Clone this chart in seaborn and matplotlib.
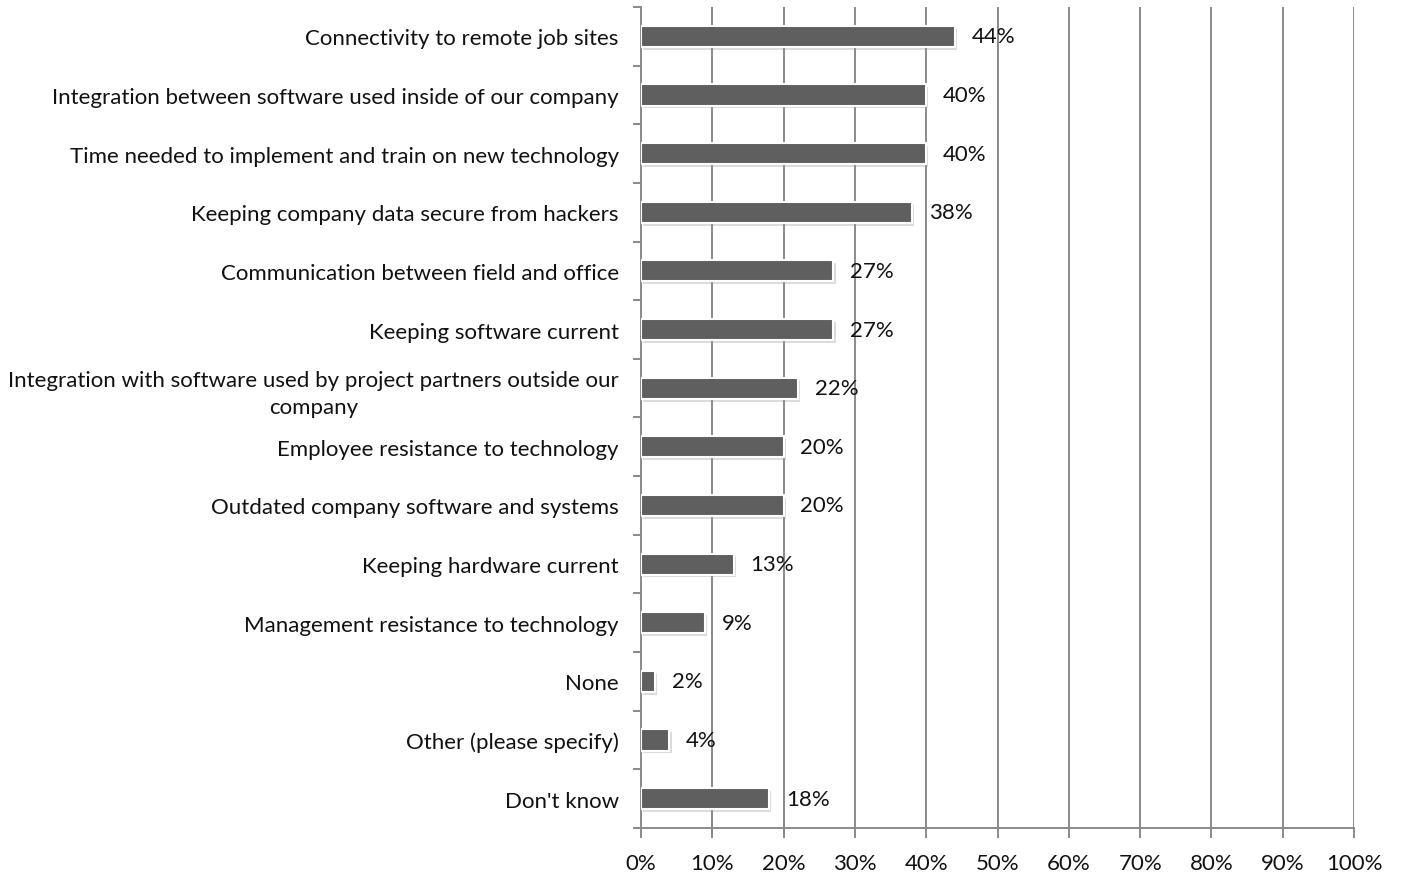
import matplotlib
matplotlib.use("Agg")
import matplotlib.pyplot as plt
import matplotlib.patheffects as pe
from matplotlib.ticker import FixedLocator, PercentFormatter
import seaborn as sns
import pandas as pd
import numpy as np

# Survey responses: biggest technology challenges
categories = [
    "Connectivity to remote job sites",
    "Integration between software used inside of our company",
    "Time needed to implement and train on new technology",
    "Keeping company data secure from hackers",
    "Communication between field and office",
    "Keeping software current",
    "Integration with software used by project partners outside our\ncompany",
    "Employee resistance to technology",
    "Outdated company software and systems",
    "Keeping hardware current",
    "Management resistance to technology",
    "None",
    "Other (please specify)",
    "Don't know",
]
values = [44, 40, 40, 38, 27, 27, 22, 20, 20, 13, 9, 2, 4, 18]
x_ticks = list(range(0, 101, 10))

df = pd.DataFrame({"challenge": categories, "share": values})

sns.set_theme(style="white")
plt.rcParams["font.family"] = ["Lato", "DejaVu Sans"]

FS = 16
fig = plt.figure(figsize=(14.01, 8.78), dpi=100)
ax = fig.add_axes([0.4575, 0.0558, 0.509, 0.9351])

sns.barplot(data=df, x="share", y="challenge", orient="h", order=categories,
            color="#5f5f5f", saturation=1, width=0.36, ax=ax,
            edgecolor="white", linewidth=1.5, zorder=3)

for bar in ax.patches:
    bar.set_path_effects([
        pe.SimplePatchShadow(offset=(1.5, -2), shadow_rgbFace="#9a9a9a", alpha=0.35),
        pe.Normal(),
    ])

texts = ax.bar_label(ax.containers[0], labels=[f"{v}%" for v in values],
                     padding=12, fontsize=FS, color="#111111")
for t in texts:
    t.set_va("center")

ax.set_xlim(0, 100)
ax.set_ylim(len(categories) - 0.5, -0.5)
ax.xaxis.set_major_locator(FixedLocator(x_ticks))
ax.xaxis.set_major_formatter(PercentFormatter(100, decimals=0))
ax.grid(axis="x", color="#8a8a8a", linewidth=1.4, zorder=0)
ax.grid(axis="y", visible=False)
ax.set_axisbelow(True)

for side in ("top", "right"):
    ax.spines[side].set_visible(False)
for side in ("left", "bottom"):
    ax.spines[side].set_color("#8a8a8a")
    ax.spines[side].set_linewidth(1.4)

ax.set_xlabel("")
ax.set_ylabel("")

# y: labels at category centres, tick marks at band boundaries
ax.tick_params(axis="y", which="major", length=0, pad=16, labelsize=FS, labelcolor="#111111")
ax.yaxis.set_minor_locator(FixedLocator(np.arange(-0.5, len(categories), 1.0)))
ax.tick_params(axis="y", which="minor", length=6, width=1.4, color="#8a8a8a", left=True)
for lbl in ax.get_yticklabels():
    lbl.set_multialignment("center")
    if "\n" in lbl.get_text():
        lbl.set_linespacing(1.45)

ax.tick_params(axis="x", which="major", length=7, width=1.4, color="#8a8a8a",
               bottom=True, pad=11, labelsize=FS, labelcolor="#111111")

fig.savefig("out.png", dpi=100, facecolor="white")
